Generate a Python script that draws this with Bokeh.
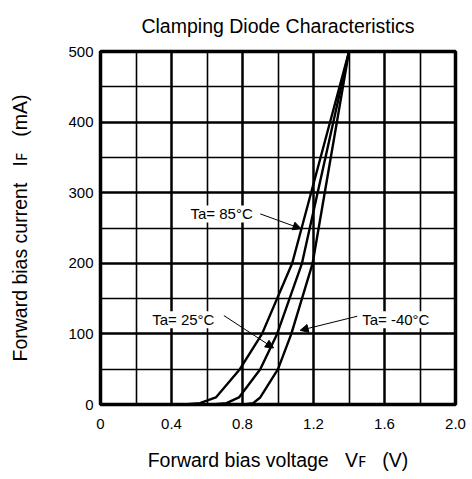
from bokeh.plotting import figure
from bokeh.models import FixedTicker, Label, Arrow, NormalHead, Range1d
from bokeh.embed import file_html
from bokeh.resources import INLINE

# ---- data ----
current_mA = [0, 2, 10, 50, 100, 200, 500]
vf_85 = [0.47, 0.56, 0.65, 0.785, 0.91, 1.08, 1.40]
vf_25 = [0.63, 0.71, 0.78, 0.90, 0.995, 1.135, 1.40]
vf_m40 = [0.81, 0.86, 0.90, 1.00, 1.075, 1.195, 1.40]

series_labels = ["Ta= 85°C", "Ta= 25°C", "Ta= -40°C"]
title_text = "Clamping Diode Characteristics"

x_ticks = [0, 0.4, 0.8, 1.2, 1.6, 2.0]
x_tick_labels = ["0", "0.4", "0.8", "1.2", "1.6", "2.0"]
x_minor = [0.2, 0.6, 1.0, 1.4, 1.8]
y_ticks = [0, 100, 200, 300, 400, 500]
y_tick_labels = ["0", "100", "200", "300", "400", "500"]
y_minor = [50, 150, 250, 350, 450]

FONT = "'Liberation Sans', 'Noto Sans', sans-serif"

p = figure(width=472, height=479, x_range=Range1d(0, 2), y_range=Range1d(0, 500),
           output_backend="svg", toolbar_location=None,
           min_border_left=100, min_border_right=17, min_border_top=51, min_border_bottom=75)

p.title.text = title_text
p.title.align = "center"
p.title.vertical_align = "top"
p.title.text_font = FONT
p.title.text_font_size = "19.5px"
p.title.text_font_style = "normal"
p.title.text_color = "black"
p.title.standoff = 26

p.outline_line_color = "black"
p.outline_line_width = 3.5
p.background_fill_color = "white"
p.border_fill_color = "white"

xt = FixedTicker(ticks=x_ticks, minor_ticks=x_minor)
yt = FixedTicker(ticks=y_ticks, minor_ticks=y_minor)
p.xaxis.ticker = xt
p.yaxis.ticker = yt
p.xgrid.ticker = xt
p.ygrid.ticker = yt
p.xaxis.major_label_overrides = {t: s for t, s in zip(x_ticks, x_tick_labels)}
p.yaxis.major_label_overrides = {t: s for t, s in zip(y_ticks, y_tick_labels)}

for g in (p.xgrid, p.ygrid):
    g.grid_line_color = "black"
    g.grid_line_width = 2.5
    g.minor_grid_line_color = "black"
    g.minor_grid_line_width = 1.6

for ax in (p.xaxis, p.yaxis):
    ax.axis_line_color = None
    ax.major_tick_line_color = None
    ax.minor_tick_line_color = None
    ax.major_tick_out = 0
    ax.major_tick_in = 0
    ax.major_label_text_font = FONT
    ax.major_label_text_font_size = "15px"
    ax.major_label_text_color = "black"
    ax.axis_label_text_font = FONT
    ax.axis_label_text_font_size = "19.5px"
    ax.axis_label_text_font_style = "normal"
    ax.axis_label_text_color = "black"

p.xaxis.major_label_standoff = 10
p.yaxis.major_label_standoff = 3
p.xaxis.axis_label = "Forward bias voltage\u00a0\u00a0\u00a0V\ua730\u00a0\u00a0\u00a0(V)"
p.yaxis.axis_label = "Forward bias current\u00a0\u00a0\u00a0I\ua730\u00a0\u00a0\u00a0(mA)"
p.xaxis.axis_label_standoff = 17
p.yaxis.axis_label_standoff = 34

for vf in (vf_85, vf_25, vf_m40):
    p.line(vf, current_mA, line_color="black", line_width=2.4)

label_pos = [(0.507, 270), (0.291, 120), (1.474, 120)]
arrows = [((0.90, 270), (1.13, 249)),
          ((0.695, 126), (0.975, 80)),
          ((1.446, 125), (1.125, 105))]

for (lx, ly), txt in zip(label_pos, series_labels):
    p.add_layout(Label(x=lx, y=ly, text=txt, text_font=FONT, text_font_size="15px",
                       text_baseline="middle", text_align="left", text_color="black",
                       background_fill_color="white"))

for (s, e) in arrows:
    p.add_layout(Arrow(x_start=s[0], y_start=s[1], x_end=e[0], y_end=e[1],
                       line_color="black", line_width=1,
                       end=NormalHead(size=8, fill_color="black", line_color="black")))

open("out.html", "w").write(file_html(p, INLINE))
